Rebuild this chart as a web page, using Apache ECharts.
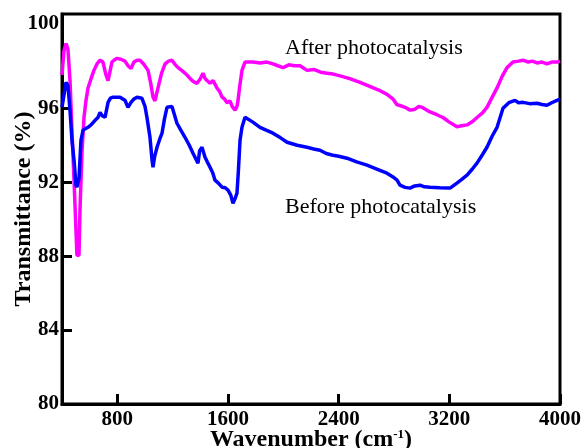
<!DOCTYPE html>
<html>
<head>
<meta charset="utf-8">
<script src="https://cdn.jsdelivr.net/npm/echarts@6/dist/echarts.min.js"></script>
<style>
html,body{margin:0;padding:0;background:#fff;}
#chart{width:583px;height:448px;}
</style>
</head>
<body>
<div id="chart"></div>
<script>
// Wavenumber (cm-1) and transmittance (%)
var afterWavenumbers = [400,414,429,443,458,472,487,501,508,523,530,545,559,573,588,610,631,653,675,696,718,733,747,761,776,798,827,855,877,899,920,942,964,990,1022,1040,1058,1072,1094,1120,1145,1170,1195,1220,1239,1265,1289,1315,1340,1360,1376,1400,1419,1435,1448,1470,1492,1520,1540,1557,1575,1593,1614,1630,1651,1665,1672,1685,1701,1723,1737,1780,1831,1880,1925,1960,1998,2040,2080,2121,2171,2220,2270,2316,2360,2410,2480,2554,2620,2699,2750,2793,2820,2843,2880,2916,2952,2980,3002,3060,3110,3154,3200,3255,3290,3328,3370,3400,3440,3472,3510,3545,3580,3617,3660,3700,3733,3770,3800,3834,3870,3906,3940,3978,4000];
var afterValues = [97.8,99.1,99.5,99.2,97.5,94.8,92.1,89.4,88.05,88.05,90.5,93.7,95.5,96.4,97.1,97.6,98.05,98.4,98.6,98.5,97.8,97.5,97.6,98.5,98.6,98.7,98.65,98.55,98.3,98.15,98.5,98.6,98.6,98.4,98.05,97.4,96.6,96.4,97.1,97.9,98.4,98.55,98.6,98.35,98.2,98.05,97.9,97.7,97.5,97.4,97.35,97.6,97.9,97.6,97.5,97.35,97.5,97.1,96.9,96.6,96.5,96.3,96.4,96.1,95.9,96.1,96.4,97.2,98.05,98.5,98.45,98.5,98.45,98.5,98.4,98.3,98.2,98.35,98.3,98.3,98.05,98.1,97.95,97.9,97.85,97.75,97.6,97.4,97.2,96.95,96.75,96.5,96.2,96.15,96.05,95.9,95.95,96.1,96.05,95.8,95.65,95.5,95.25,95.0,95.05,95.1,95.3,95.5,95.75,96.05,96.6,97.1,97.7,98.2,98.5,98.55,98.6,98.5,98.55,98.45,98.5,98.4,98.5,98.5,98.55];

var beforeWavenumbers = [400,414,429,443,458,472,487,501,508,523,537,552,570,588,610,639,660,675,690,711,733,750,769,790,819,855,877,899,920,942,978,1000,1014,1036,1051,1058,1070,1087,1105,1123,1140,1159,1195,1215,1231,1260,1289,1320,1347,1383,1395,1412,1434,1450,1470,1490,1506,1530,1557,1580,1600,1620,1636,1650,1665,1675,1687,1701,1723,1737,1780,1831,1880,1925,1980,2027,2100,2171,2220,2265,2310,2359,2400,2460,2530,2605,2680,2749,2790,2822,2843,2880,2916,2950,2988,3020,3060,3130,3205,3255,3290,3328,3365,3400,3440,3472,3510,3545,3588,3630,3675,3700,3733,3780,3834,3870,3906,3940,3978,4000];
var beforeValues = [96.05,96.7,97.4,97.24,95.89,94.27,93.19,91.84,91.73,92.22,94.27,94.81,94.9,94.97,95.1,95.35,95.5,95.78,95.6,95.51,96.32,96.55,96.6,96.6,96.6,96.43,96.05,96.32,96.5,96.6,96.54,96.1,95.51,94.43,93.19,92.81,93.4,93.89,94.3,94.65,95.4,96.05,96.1,95.6,95.19,94.8,94.43,94.0,93.57,93.03,93.7,93.89,93.35,93.1,92.81,92.5,92.11,91.95,91.73,91.7,91.57,91.3,90.86,91.1,91.41,92.6,94.27,94.97,95.51,95.46,95.25,94.97,94.8,94.65,94.4,94.16,94.0,93.89,93.8,93.73,93.55,93.46,93.4,93.3,93.1,92.92,92.7,92.49,92.3,92.11,91.84,91.72,91.68,91.8,91.84,91.75,91.73,91.7,91.68,91.95,92.15,92.38,92.7,93.03,93.5,93.89,94.5,94.97,96.0,96.3,96.43,96.3,96.32,96.25,96.27,96.2,96.16,96.3,96.43,96.49];

var xTickValues = [800,1600,2400,3200,4000];
var yTickValues = [84,88,92,96];
var yLabelValues = [80,84,88,92,96,100];
var seriesNames = ['After photocatalysis','Before photocatalysis'];

function zip(a,b){var r=[];for(var i=0;i<a.length;i++){r.push([a[i],b[i]]);}return r;}

var serifBold = {fontFamily:'"Liberation Serif","Times New Roman",serif',fontWeight:'bold',color:'#000'};
var chart = echarts.init(document.getElementById('chart'), null, {renderer:'canvas'});
var yMax = 101.1;
// the top label "100" sits at the frame corner in the reference
var yLabelPositions = yLabelValues.map(function(v){return v===100?100.6:v;});
chart.setOption({
  animation:false,
  backgroundColor:'#fff',
  grid:{left:62,right:23,top:14,bottom:44,containLabel:false,outerBoundsMode:'none',show:true,borderColor:'#000',borderWidth:3,backgroundColor:'transparent'},
  xAxis:{
    type:'value',min:400,max:4000,
    name:'{a|Wavenumber (cm}{s|-1}{a|)}',
    nameLocation:'middle',nameGap:24,nameMoveOverlap:false,
    nameTextStyle:{rich:{
      a:{fontFamily:'"Liberation Serif",serif',fontWeight:'bold',fontSize:24,color:'#000'},
      s:{fontFamily:'"Liberation Serif",serif',fontWeight:'bold',fontSize:13,color:'#000',verticalAlign:'top',padding:[0,0,10,0]}
    }},
    axisLine:{show:true,lineStyle:{color:'#000',width:3}},
    axisTick:{show:true,inside:true,length:10,lineStyle:{color:'#000',width:3},customValues:xTickValues},
    axisLabel:Object.assign({fontSize:21,margin:5,customValues:xTickValues,
      formatter:function(v){return String(v);}},serifBold),
    splitLine:{show:false}
  },
  yAxis:{
    type:'value',min:80,max:yMax,
    name:'Transmittance (%)',
    nameLocation:'middle',nameGap:26,nameMoveOverlap:false,
    nameTextStyle:{fontFamily:'"Liberation Serif",serif',fontWeight:'bold',fontSize:24,color:'#000'},
    axisLine:{show:true,lineStyle:{color:'#000',width:3}},
    axisTick:{show:true,inside:true,length:10,lineStyle:{color:'#000',width:3},customValues:yTickValues},
    axisLabel:Object.assign({fontSize:21,margin:3,customValues:yLabelPositions,
      formatter:function(v){return v>99?'100':String(v);}},serifBold),
    splitLine:{show:false}
  },
  series:[
    {name:seriesNames[0],type:'line',data:zip(afterWavenumbers,afterValues),showSymbol:false,
     lineStyle:{color:'#FF00FF',width:3.5},itemStyle:{color:'#FF00FF'},z:2},
    {name:seriesNames[1],type:'line',data:zip(beforeWavenumbers,beforeValues),showSymbol:false,
     lineStyle:{color:'#0000FF',width:3.5},itemStyle:{color:'#0000FF'},z:3}
  ],
  graphic:[
    {type:'text',left:285,top:37,style:{text:seriesNames[0],font:'22px "Liberation Serif", serif',fill:'#000'}},
    {type:'text',left:285,top:196,style:{text:seriesNames[1],font:'22px "Liberation Serif", serif',fill:'#000'}}
  ]
});
</script>
</body>
</html>
